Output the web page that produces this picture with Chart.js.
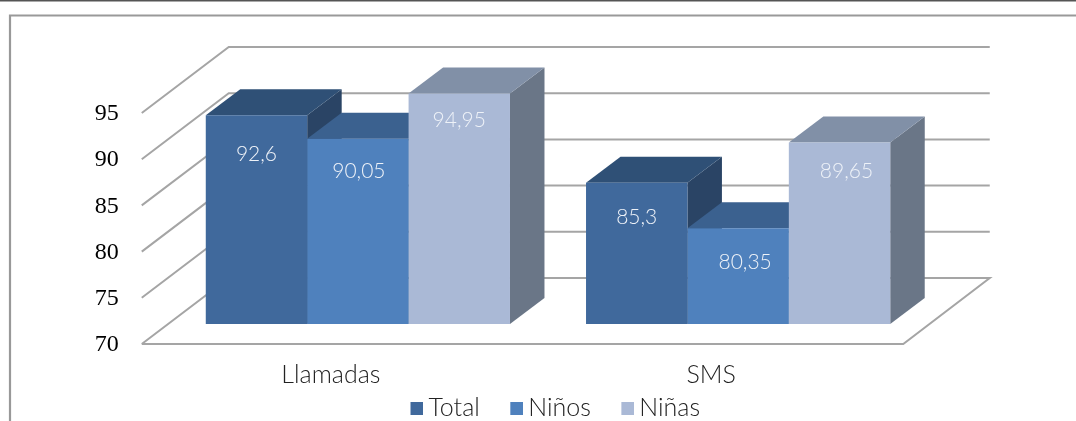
<!DOCTYPE html>
<html><head><meta charset="utf-8">
<style>html,body{margin:0;padding:0;background:#fff;overflow:hidden}canvas{display:block}</style>
<script src="https://cdn.jsdelivr.net/npm/chart.js@4"></script></head>
<body><canvas id="c" width="1076" height="421"></canvas>
<script>
const categories = ["Llamadas", "SMS"];
const total = [92.6, 85.3];
const ninos = [90.05, 80.35];
const ninas = [94.95, 89.65];
const seriesNames = ["Total", "Niños", "Niñas"];
const yTicks = [70, 75, 80, 85, 90, 95];

const frontColors = ["#40699C", "#4F81BD", "#AAB9D6"];
const topColors = ["#2F5076", "#3B618F", "#8190A7"];
const sideColors = ["#2A4465", "#3A5A80", "#6A7687"];

const textFont = "Lato, sans-serif";
const DX = 34.5, DY = 26;      // bar depth
const WALL = -46, FLOOR = 20;  // grid planes relative to the bar plane
const labelDrop = [[39.5, 34.6], [32, 34], [26.5, 29]];
const labelShift = [[0, 0], [1, 7], [0, 7]];

// Legend marker: a canvas whose square sits at its right end.
function squares() {
  return frontColors.map(col => {
    const s = document.createElement("canvas");
    s.width = 41; s.height = 13;
    const x = s.getContext("2d");
    x.fillStyle = col; x.fillRect(28, 0, 13, 13);
    return s;
  });
}
const legendSquares = squares();

const frame3d = {
  id: "frame3d",
  beforeDraw(chart) {
    const c = chart.ctx, y = chart.scales.y, area = chart.chartArea;
    c.save();
    c.strokeStyle = "#555"; c.lineWidth = 2;
    c.beginPath(); c.moveTo(0, 0.5); c.lineTo(1076, 0.5); c.stroke();
    c.strokeStyle = "#999"; c.lineWidth = 2.2;
    c.beginPath(); c.moveTo(10, 421); c.lineTo(10, 15.5); c.lineTo(1076, 15.5); c.stroke();

    const left = area.left - 26, backLeft = left + 87, backRight = area.right + 61.5, frontRight = backRight - 86.5;
    c.strokeStyle = "#A5A5A5"; c.lineWidth = 2;
    yTicks.forEach(t => {
      const p = y.getPixelForValue(t);
      c.beginPath();
      c.moveTo(left, p + FLOOR);
      c.lineTo(backLeft, p + WALL);
      c.lineTo(backRight, p + WALL);
      if (t === yTicks[0]) {
        c.lineTo(frontRight, p + FLOOR);
        c.lineTo(left, p + FLOOR);
      }
      c.stroke();
    });
    c.restore();
  },
  beforeDatasetsDraw(chart) {
    const c = chart.ctx;
    c.save();
    chart.data.datasets.forEach((d, di) => {
      chart.getDatasetMeta(di).data.forEach(b => {
        const l = b.x - b.width / 2, r = b.x + b.width / 2, t = b.y, bot = chart.scales.y.getPixelForValue(yTicks[0]);
        c.fillStyle = sideColors[di];
        c.beginPath();
        c.moveTo(r, t); c.lineTo(r + DX, t - DY); c.lineTo(r + DX, bot - DY); c.lineTo(r, bot);
        c.closePath(); c.fill();
        c.fillStyle = topColors[di];
        c.beginPath();
        c.moveTo(l, t); c.lineTo(l + DX, t - DY); c.lineTo(r + DX, t - DY); c.lineTo(r, t);
        c.closePath(); c.fill();
      });
    });
    c.restore();
  },
  afterDatasetsDraw(chart) {
    const c = chart.ctx;
    c.save();
    c.fillStyle = "#EEF2F8";
    c.font = "300 21px " + textFont;
    c.textAlign = "center"; c.textBaseline = "middle";
    chart.data.datasets.forEach((d, di) => {
      chart.getDatasetMeta(di).data.forEach((b, i) => {
        c.fillText(String(d.data[i]).replace(".", ","), b.x + labelShift[di][i], b.y + labelDrop[di][i]);
      });
    });
    c.restore();
  }
};

new Chart(document.getElementById("c"), {
  type: "bar",
  data: {
    labels: categories,
    datasets: [total, ninos, ninas].map((v, i) => ({
      label: seriesNames[i], data: v, backgroundColor: frontColors[i], base: yTicks[0],
      barPercentage: 1, categoryPercentage: 0.8, yAxisID: "y", xAxisID: "x"
    }))
  },
  options: {
    responsive: false, animation: false, devicePixelRatio: 1,
    layout: { padding: { left: 14, right: 0, top: 93, bottom: -9.5 } },
    plugins: {
      tooltip: { enabled: false },
      legend: {
        position: "bottom",
        labels: {
          usePointStyle: true, pointStyleWidth: 26, padding: 10,
          color: "#222", font: { family: textFont, size: 25, weight: "300" },
          generateLabels(chart) {
            return Chart.defaults.plugins.legend.labels.generateLabels(chart)
              .map((it, i) => Object.assign(it, { pointStyle: legendSquares[i] }));
          }
        }
      }
    },
    scales: {
      x: {
        grid: { display: false, drawTicks: false }, border: { display: false },
        afterFit(s) { s.height = 61.5; },
        ticks: { labelOffset: -27, padding: 36, maxRotation: 0, autoSkip: false, color: "#222",
                 font: { family: textFont, size: 25, weight: "300" } }
      },
      y: {
        min: 70, max: 95,
        grid: { display: false, drawTicks: false }, border: { display: false },
        afterFit(s) { s.width = 153.75; },
        afterBuildTicks(s) { s.ticks = yTicks.map(v => ({ value: v })); },
        ticks: { labelOffset: 21, padding: 49, color: "#000",
                 font: { family: "Liberation Serif", size: 24 } }
      },
      yr: {
        position: "right", display: true,
        grid: { display: false, drawTicks: false }, border: { display: false },
        ticks: { display: false },
        afterFit(s) { s.width = 147.75; }
      }
    }
  },
  plugins: [frame3d]
});
</script></body></html>
